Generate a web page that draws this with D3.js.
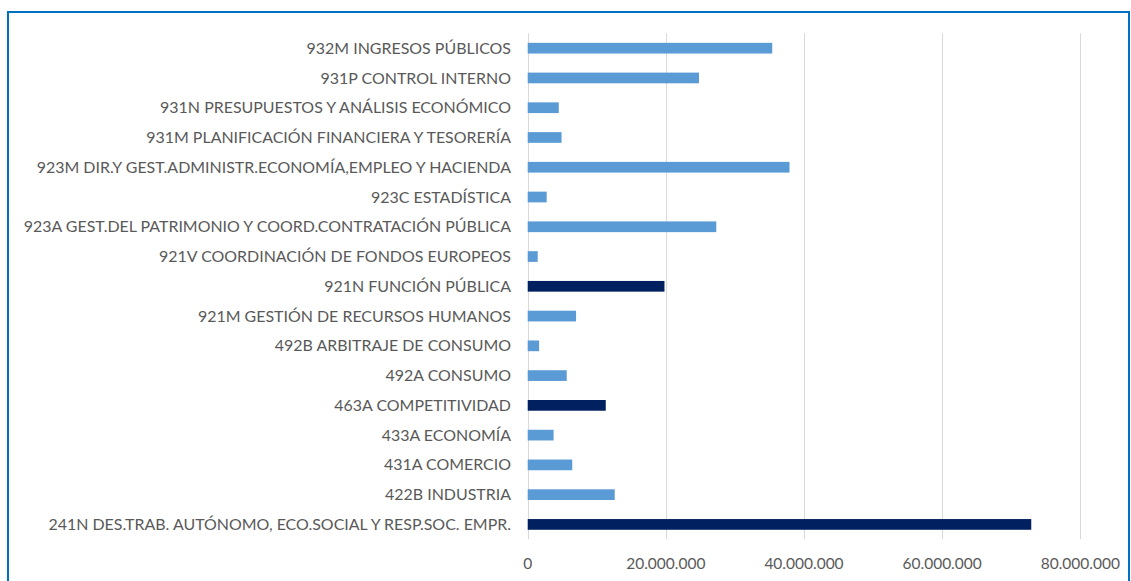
<!DOCTYPE html>
<html><head><meta charset="utf-8">
<script src="https://cdn.jsdelivr.net/npm/d3@7"></script>
<style>html,body{margin:0;padding:0;background:#fff;}svg{display:block;}</style>
</head><body>
<svg id="chart" width="1131" height="581"></svg>
<script>
const categories = [
  "932M INGRESOS PÚBLICOS",
  "931P CONTROL INTERNO",
  "931N PRESUPUESTOS Y ANÁLISIS ECONÓMICO",
  "931M PLANIFICACIÓN FINANCIERA Y TESORERÍA",
  "923M DIR.Y GEST.ADMINISTR.ECONOMÍA,EMPLEO Y HACIENDA",
  "923C ESTADÍSTICA",
  "923A GEST.DEL PATRIMONIO Y COORD.CONTRATACIÓN PÚBLICA",
  "921V COORDINACIÓN DE FONDOS EUROPEOS",
  "921N FUNCIÓN PÚBLICA",
  "921M GESTIÓN DE RECURSOS HUMANOS",
  "492B ARBITRAJE DE CONSUMO",
  "492A CONSUMO",
  "463A COMPETITIVIDAD",
  "433A ECONOMÍA",
  "431A COMERCIO",
  "422B INDUSTRIA",
  "241N DES.TRAB. AUTÓNOMO, ECO.SOCIAL Y RESP.SOC. EMPR."
];
const values = [35400000, 24800000, 4500000, 4900000, 37900000, 2750000, 27300000, 1450000, 19800000, 7000000, 1650000, 5650000, 11300000, 3750000, 6450000, 12600000, 72900000];
const highlighted = ["921N FUNCIÓN PÚBLICA", "463A COMPETITIVIDAD", "241N DES.TRAB. AUTÓNOMO, ECO.SOCIAL Y RESP.SOC. EMPR."];
const tickValues = [0, 20000000, 40000000, 60000000, 80000000];
const tickLabels = ["0", "20.000.000", "40.000.000", "60.000.000", "80.000.000"];

const svg = d3.select("#chart");
const FONT = "Lato, 'Open Sans', sans-serif";
const TEXT = "#595959";

// frame
svg.append("rect").attr("x", 8).attr("y", 12).attr("width", 1121).attr("height", 600)
  .attr("fill", "none").attr("stroke", "#0070C0").attr("stroke-width", 2);

const x = d3.scaleLinear().domain([0, 80000000]).range([527.7, 1080.3]);
const y = d3.scaleBand().domain(categories).range([33.3, 539.3]).paddingInner(0.64).paddingOuter(0.32);

// gridlines
svg.append("g").selectAll("line").data(tickValues).join("line")
  .attr("x1", d => Math.round(x(d)) + 0.5).attr("x2", d => Math.round(x(d)) + 0.5)
  .attr("y1", 33.3).attr("y2", 539.3)
  .attr("stroke", "#D9D9D9").attr("stroke-width", 1);

// bars
svg.append("g").selectAll("rect").data(categories).join("rect")
  .attr("x", x(0))
  .attr("y", d => y(d))
  .attr("width", (d, i) => x(values[i]) - x(0))
  .attr("height", y.bandwidth())
  .attr("fill", d => highlighted.includes(d) ? "#002060" : "#5B9BD5");

// category labels (slightly widened to mimic the original face at this size)
const labG = svg.append("g").attr("transform", "translate(511,0) scale(1.03,1) translate(-511,0)");
labG.selectAll("text").data(categories).join("text")
  .attr("x", 511)
  .attr("y", d => y(d) + y.bandwidth() / 2)
  .attr("dy", "0.36em")
  .attr("text-anchor", "end")
  .attr("font-family", FONT).attr("font-size", 15.5)
  .attr("fill", TEXT)
  .text(d => d);

// tick labels
svg.append("g").selectAll("text").data(tickValues).join("text")
  .attr("x", d => x(d))
  .attr("y", 563.5)
  .attr("dy", "0.36em")
  .attr("text-anchor", "middle")
  .attr("font-family", FONT).attr("font-size", 15.5)
  .attr("fill", TEXT)
  .text((d, i) => tickLabels[i]);
</script>
</body></html>
